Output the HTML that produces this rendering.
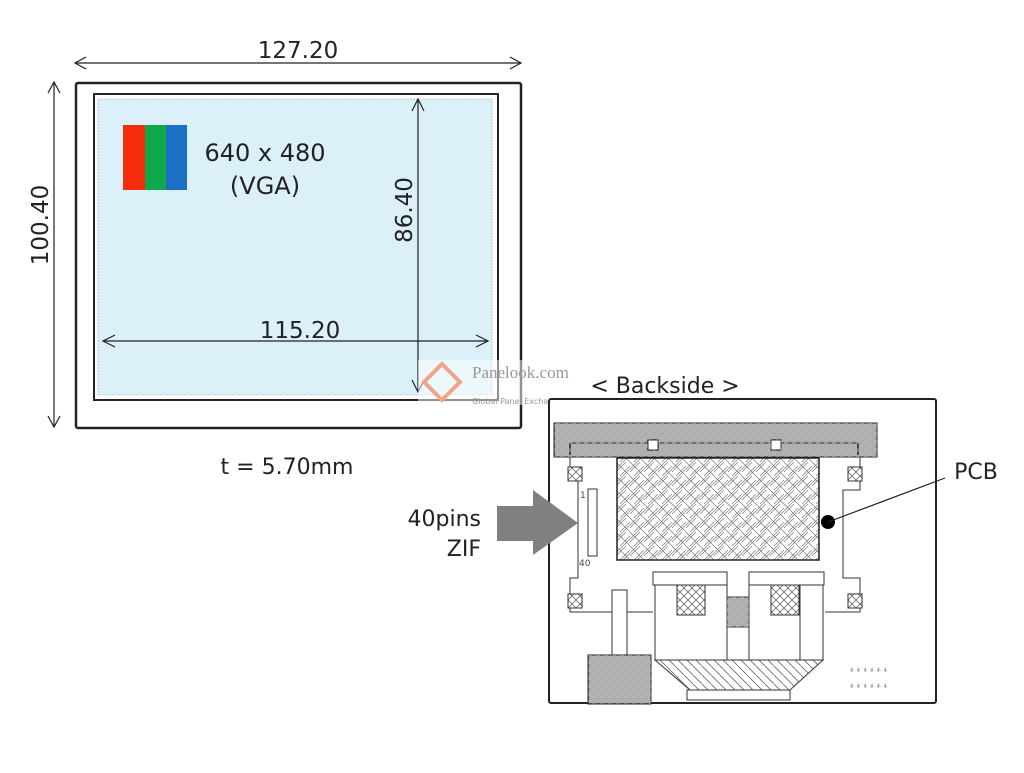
<!DOCTYPE html>
<html><head><meta charset="utf-8"><style>
html,body{margin:0;padding:0;background:#fff}
svg text{font-family:"DejaVu Sans","Liberation Sans",sans-serif}
</style></head><body>
<svg width="1024" height="768" viewBox="0 0 1024 768" xmlns="http://www.w3.org/2000/svg">
<defs>
<pattern id="bw" width="8" height="8" patternUnits="userSpaceOnUse">
<rect width="8" height="8" fill="#fff"/>
<path d="M0 1H4M0 3H4M5 0V4M7 0V4M4 5H8M4 7H8M1 4V8M3 4V8" stroke="#333" stroke-width="0.8"/>
</pattern>
<pattern id="hb" width="14" height="14" patternUnits="userSpaceOnUse">
<rect width="14" height="14" fill="#fff"/>
<path d="M0 7L7 0M0 10L10 0M7 14L14 7M4 14L14 4M7 7L14 14M0 0L7 7" stroke="#777" stroke-width="0.7"/>
</pattern>
<pattern id="xx" width="8" height="8" patternUnits="userSpaceOnUse">
<rect width="8" height="8" fill="#fff"/><path d="M0 0L8 8M8 0L0 8" stroke="#555" stroke-width="0.7"/>
</pattern>
<pattern id="dg" width="9" height="9" patternUnits="userSpaceOnUse">
<rect width="9" height="9" fill="#fff"/><path d="M0 0L9 9" stroke="#666" stroke-width="0.8"/>
</pattern>
</defs>
<g stroke="#222" stroke-width="1.2" fill="none">
<!-- top dim -->
<line x1="75" y1="63" x2="521" y2="63"/><path d="M86 57L75 63L86 69M510 57L521 63L510 69"/>
<line x1="54" y1="82" x2="54" y2="427"/><path d="M48 93L54 82L60 93M48 416L54 427L60 416"/>
</g>
<rect x="76" y="83" width="445" height="345" fill="#fff" stroke="#222" stroke-width="2.5" rx="2"/>
<rect x="94" y="94" width="404" height="306" fill="#fff" stroke="#222" stroke-width="2"/>
<rect x="98" y="99" width="394" height="296" fill="#dbf0f9" stroke="#9ab" stroke-width="0.6" stroke-dasharray="2 1"/>
<rect x="123" y="125" width="22" height="65" fill="#f32d0a"/>
<rect x="145" y="125" width="21" height="65" fill="#0fa84a"/>
<rect x="166" y="125" width="21" height="65" fill="#1b6fc4"/>
<text x="265" y="161" font-size="24" text-anchor="middle" fill="#222">640 x 480</text>
<text x="265" y="194" font-size="24" text-anchor="middle" fill="#222">(VGA)</text>
<text x="298" y="58" font-size="23" text-anchor="middle" fill="#222">127.20</text>
<text transform="translate(48,225) rotate(-90)" font-size="23" text-anchor="middle" fill="#222">100.40</text>
<text transform="translate(412,210) rotate(-90)" font-size="23" text-anchor="middle" fill="#222">86.40</text>
<text x="300" y="338" font-size="23" text-anchor="middle" fill="#222">115.20</text>
<g stroke="#222" stroke-width="1.2" fill="none">
<line x1="103" y1="341" x2="488" y2="341"/><path d="M115 335L103 341L115 347M476 335L488 341L476 347"/>
<line x1="418" y1="99" x2="418" y2="392"/><path d="M412 111L418 99L424 111M412 380L418 392L424 380"/>
</g>
<text x="287" y="474" font-size="22" text-anchor="middle" fill="#222">t = 5.70mm</text>
<!-- watermark -->
<rect x="418" y="360" width="110" height="45" fill="#fff" opacity="0.5"/>
<path d="M442 364L460 382L442 400L424 382Z" fill="none" stroke="#f0a58a" stroke-width="4"/>
<text x="472" y="378" font-size="17" fill="#999" font-family="Liberation Serif,serif" style="font-family:'Liberation Serif',serif">Panelook.com</text>
<text x="472" y="404" font-size="8" fill="#999">Global Panel Exchange Center</text>
<text x="665" y="393" font-size="22" text-anchor="middle" fill="#222">&lt; Backside &gt;</text>
<!-- backside -->
<rect x="549" y="399" width="387" height="304" fill="#fff" stroke="#222" stroke-width="2" rx="2"/>
<rect x="554" y="423" width="323" height="34" fill="url(#bw)" stroke="#222"/>
<g stroke="#333" fill="none" stroke-width="1">
<path d="M570 455V443H858V455"/>
<path d="M570 457V468H578V490H578V578H570V612H653M825 612H860V578H843V490H860V468H860V457"/>
<rect x="568" y="467" width="14" height="14" fill="url(#xx)"/>
<rect x="848" y="467" width="14" height="14" fill="url(#xx)"/>
<rect x="568" y="594" width="14" height="14" fill="url(#xx)"/>
<rect x="848" y="594" width="14" height="14" fill="url(#xx)"/>
<rect x="648" y="440" width="10" height="10" fill="#fff"/>
<rect x="771" y="440" width="10" height="10" fill="#fff"/>
<rect x="588" y="489" width="9" height="67" fill="#fff"/>
<rect x="653" y="572" width="74" height="13" fill="#fff"/>
<rect x="749" y="572" width="75" height="13" fill="#fff"/>
<path d="M655 585V660H823V585H800V660M655 585H727V660M749 660V585"/>
<path d="M655 660L690 690H790L823 660Z" fill="url(#dg)"/>
<path d="M677 585V615H705V585Z" fill="url(#xx)"/>
<path d="M771 585V615H799V585Z" fill="url(#xx)"/>
<rect x="727" y="597" width="22" height="30" fill="url(#bw)"/>
<rect x="687" y="690" width="103" height="10" fill="#fff"/>
<rect x="612" y="590" width="15" height="65" fill="#fff"/>
</g>
<rect x="617" y="458" width="202" height="102" fill="url(#hb)" stroke="#222" stroke-width="1.5"/>
<rect x="588" y="655" width="63" height="49" fill="url(#bw)" stroke="#222"/>
<text x="580" y="498" font-size="9" fill="#444" font-family="Liberation Serif,serif">1</text>
<text x="579" y="566" font-size="9" fill="#444" font-family="Liberation Serif,serif">40</text>
<g font-size="7" fill="#888"><text x="850" y="672">ፉ ፉ ፉ ፉ ፉ ፉ</text><text x="850" y="688">ፉ ፉ ፉ ፉ ፉ ፉ</text></g>
<circle cx="828" cy="522" r="7" fill="#000"/>
<line x1="828" y1="522" x2="945" y2="478" stroke="#222" stroke-width="1.2"/>
<text x="976" y="479" font-size="22" text-anchor="middle" fill="#222">PCB</text>
<path d="M497 506H533V490L578 523L533 555V541H497Z" fill="#808080"/>
<text x="481" y="526" font-size="22" text-anchor="end" fill="#222">40pins</text>
<text x="481" y="556" font-size="22" text-anchor="end" fill="#222">ZIF</text>
</svg>
</body></html>
